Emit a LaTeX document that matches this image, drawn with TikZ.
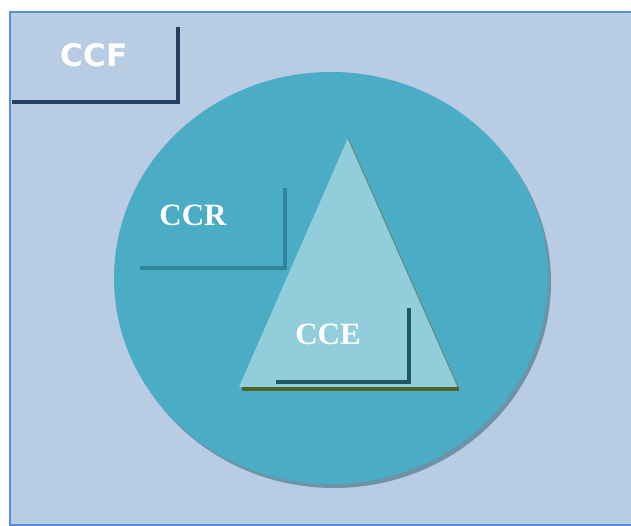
\documentclass[tikz,border=0pt]{standalone}
\usepackage{fontspec}
\setmainfont{Liberation Serif}
\newfontfamily\labelsans{DejaVu Sans}
\usepackage{tikz}

\begin{document}
\begin{tikzpicture}[x=1pt, y=-1pt,
  lbl/.style={text=white, font=\bfseries\fontsize{31}{31}\selectfont, inner sep=0pt},
  bracket/.style={line width=4pt, line cap=rect}]
\definecolor{frameblue}{HTML}{B8CCE4}
\definecolor{frameline}{HTML}{558ED5}
\definecolor{circleblue}{HTML}{4BACC6}
\definecolor{shadowgrey}{HTML}{6C93A6}
\definecolor{trifill}{HTML}{92CDDC}
\definecolor{navy}{HTML}{243F60}
\definecolor{tealdark}{HTML}{31849B}
\definecolor{petrol}{HTML}{215868}
\definecolor{olive}{HTML}{4F6228}
\useasboundingbox (0,0) rectangle (631,526);
\fill[white] (0,0) rectangle (631,526);
% outer frame
\draw[frameline, line width=2pt, fill=frameblue] (10,12) rectangle (640,525);
% CCF
\node[lbl, font=\labelsans\bfseries\fontsize{31}{31}\selectfont] (ccf) at (94,55) {CCF};
\draw[bracket, navy] (178,29) -- (178,102) -- (14,102);
% circle with shadow
\fill[shadowgrey] (334,282) ellipse (217 and 206);
\fill[circleblue] (331,278) ellipse (217 and 206);
% triangle
\fill[trifill] (348,138) -- (458,387) -- (239,387) -- cycle;
\draw[olive!70!trifill, line width=0.8pt] (348,138) -- (458,387);
\draw[olive, line width=4pt] (242,389) -- (459,389);
% CCR
\node[lbl] (ccr) at (193,215) {CCR};
\draw[bracket, tealdark] (285,190) -- (285,268) -- (142,268);
% CCE
\node[lbl] (cce) at (328,334) {CCE};
\draw[bracket, petrol] (409,310) -- (409,382) -- (278,382);
\end{tikzpicture}
\end{document}
